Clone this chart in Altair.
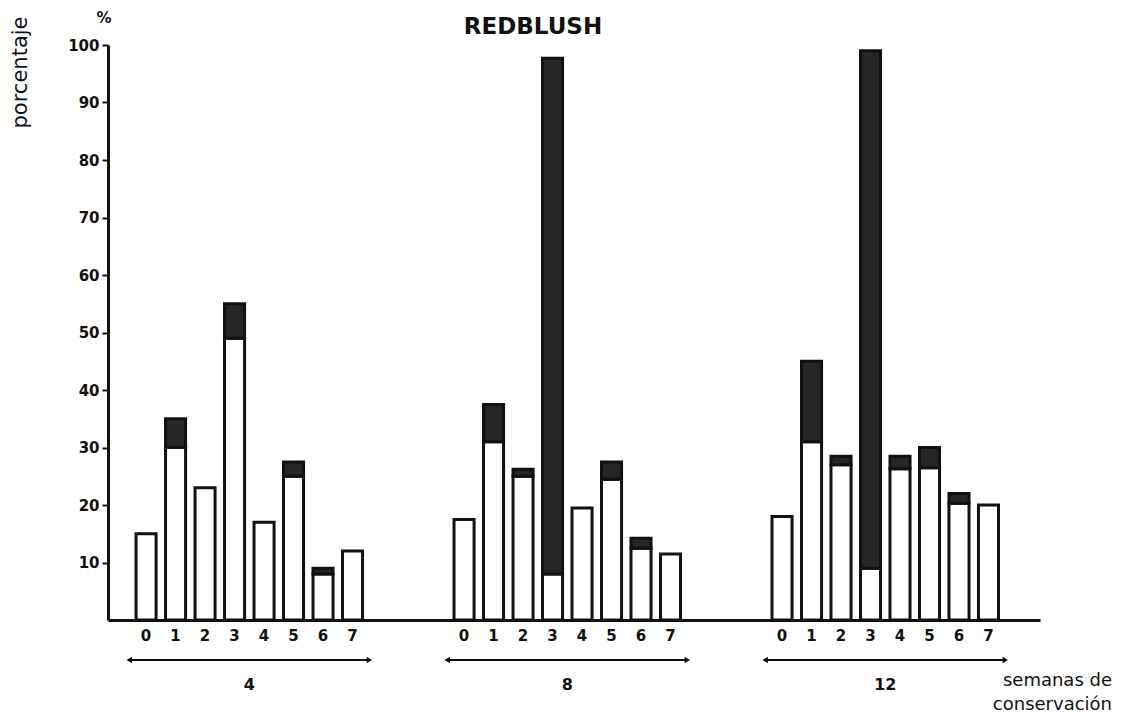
import altair as alt
import pandas as pd

# ---- data ----
semanas = ["4", "8", "12"]
fases = ["0", "1", "2", "3", "4", "5", "6", "7"]

blanco_4 = [15, 30, 23, 49, 17, 25, 8, 12]
total_4 = [15, 35, 23, 55, 17, 27.5, 9, 12]

blanco_8 = [17.5, 31, 25, 8, 19.5, 24.5, 12.5, 11.5]
total_8 = [17.5, 37.5, 26.2, 97.7, 19.5, 27.5, 14.2, 11.5]

blanco_12 = [18, 31, 27, 9, 26.3, 26.5, 20.3, 20]
total_12 = [18, 45, 28.5, 99, 28.5, 30, 22, 20]

y_ticks = [10, 20, 30, 40, 50, 60, 70, 80, 90, 100]

rows = []
for s, b, t in zip(semanas, [blanco_4, blanco_8, blanco_12], [total_4, total_8, total_12]):
    for f, bv, tv in zip(fases, b, t):
        rows.append({"semana": s, "fase": f, "blanco": bv, "total": tv})
df = pd.DataFrame(rows)
df_dark = df[df["total"] > df["blanco"]]
df_sem = pd.DataFrame({"semana": semanas})

W, H = 932, 575
INK = "#111111"
FONT = "DejaVu Sans"

xscale = alt.Scale(domain=semanas, paddingInner=0.245, paddingOuter=0.088, align=0.38)
xoscale = alt.Scale(domain=fases, paddingInner=0.32, paddingOuter=0.23)

x_enc = alt.X(
    "semana:N",
    scale=xscale,
    sort=semanas,
    axis=alt.Axis(
        title=None, ticks=False, labelPadding=56, labelFontSize=16,
        labelFontWeight="bold", labelColor=INK, labelFont=FONT,
        domainColor=INK, domainWidth=3, labelAngle=0,
    ),
)
xo_enc = alt.XOffset("fase:N", scale=xoscale, sort=fases)

y_axis = alt.Axis(
    values=y_ticks, title="porcentaje", titleAngle=270, titleX=-88, titleY=27,
    titleAlign="center", titleBaseline="middle", titleFontSize=21,
    titleFontWeight="normal", titleFont=FONT, titleColor=INK,
    labelFontSize=15, labelFontWeight="bold", labelFont=FONT, labelColor=INK,
    domainColor=INK, domainWidth=3, tickColor=INK, tickWidth=2, tickSize=6,
    labelPadding=3, grid=False,
)

base = alt.Chart(df)

white = base.mark_bar(fill="white", stroke=INK, strokeWidth=3).encode(
    x=x_enc,
    xOffset=xo_enc,
    y=alt.Y("blanco:Q", scale=alt.Scale(domain=[0, 100]), axis=y_axis),
)

dark = alt.Chart(df_dark).mark_bar(fill="#262626", stroke=INK, strokeWidth=3).encode(
    x=alt.X("semana:N", scale=xscale, sort=semanas),
    xOffset=xo_enc,
    y=alt.Y("blanco:Q"),
    y2="total:Q",
)

fase_labels = base.mark_text(
    fontSize=15, fontWeight="bold", font=FONT, color=INK, baseline="middle"
).encode(
    x=alt.X("semana:N", scale=xscale, sort=semanas),
    xOffset=xo_enc,
    y=alt.value(H + 16),
    text="fase:N",
)

arrow_line = alt.Chart(df_sem).mark_rect(color=INK).encode(
    x=alt.X("semana:N", scale=xscale, sort=semanas),
    y=alt.value(H + 39),
    y2=alt.value(H + 41),
)
arrow_left = alt.Chart(df_sem).mark_point(
    shape="triangle-left", filled=True, color=INK, size=40, opacity=1
).encode(
    x=alt.X("semana:N", scale=xscale, sort=semanas, bandPosition=0),
    y=alt.value(H + 40),
)
arrow_right = alt.Chart(df_sem).mark_point(
    shape="triangle-right", filled=True, color=INK, size=40, opacity=1
).encode(
    x=alt.X("semana:N", scale=xscale, sort=semanas, bandPosition=1),
    y=alt.value(H + 40),
)

title = alt.Chart(pd.DataFrame({"t": ["REDBLUSH"]})).mark_text(
    fontSize=23, fontWeight="bold", font=FONT, color=INK, align="center", baseline="middle"
).encode(text="t:N", x=alt.value(425), y=alt.value(-18))

pct = alt.Chart(pd.DataFrame({"t": ["%"]})).mark_text(
    fontSize=15, fontWeight="bold", font=FONT, color=INK, align="center", baseline="middle"
).encode(text="t:N", x=alt.value(-4), y=alt.value(-27))

note = alt.Chart(pd.DataFrame({"t": ["semanas de\nconservación"]})).mark_text(
    fontSize=18, font=FONT, color=INK, align="right", baseline="middle",
    lineBreak="\n", lineHeight=24,
).encode(text="t:N", x=alt.value(1004), y=alt.value(H + 61))

chart = alt.layer(
    white, dark, fase_labels, arrow_line, arrow_left, arrow_right, title, pct, note
).properties(
    width=W,
    height=H,
    background="white",
    autosize=alt.AutoSizeParams(type="none"),
    padding={"left": 100, "top": 37, "right": 78, "bottom": 98},
).configure_view(strokeWidth=0, stroke=None)

chart.save("out.html", embed_options={"renderer": "svg", "actions": False})
